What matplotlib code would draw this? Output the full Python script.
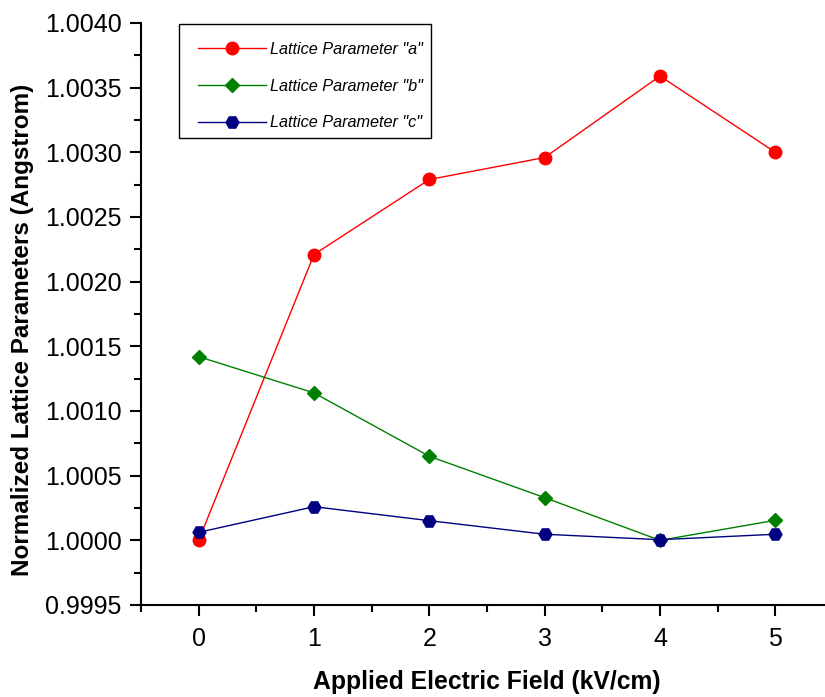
import matplotlib
matplotlib.use("Agg")
import matplotlib.pyplot as plt
from matplotlib.patches import Rectangle
from matplotlib.ticker import MultipleLocator, FormatStrFormatter

plt.rcParams['font.family'] = ['Liberation Sans', 'DejaVu Sans']

field = [0, 1, 2, 3, 4, 5]
param_a = [1.00000, 1.00221, 1.00279, 1.00296, 1.00359, 1.00300]
param_b = [1.00142, 1.00114, 1.00065, 1.00033, 1.00000, 1.000155]
param_c = [1.000062, 1.00026, 1.000152, 1.000047, 1.000005, 1.000047]
labels = ['Lattice Parameter "a"', 'Lattice Parameter "b"', 'Lattice Parameter "c"']
xticks = [0, 1, 2, 3, 4, 5]

W, H = 825, 697
fig = plt.figure(figsize=(W/100, H/100), dpi=100)
left, right, bottom, top = 141, 833, 605, 23
ax = fig.add_axes([left/W, 1-bottom/H, (right-left)/W, (bottom-top)/H])

ax.plot(field, param_a, color='#ff0000', lw=1, marker='o', ms=9, label=labels[0])
ax.plot(field, param_b, color='#008000', lw=1, marker='D', ms=7.5, label=labels[1])
ax.plot(field, param_c, color='#000080', lw=1, marker='H', ms=9.3, label=labels[2])

ax.set_xlim(-0.5, 5.5)
ax.set_ylim(0.9995, 1.0040)
ax.set_xticks(xticks)
ax.xaxis.set_minor_locator(MultipleLocator(0.5))
ax.yaxis.set_major_locator(MultipleLocator(0.0005))
ax.yaxis.set_minor_locator(MultipleLocator(0.00025))
ax.yaxis.set_major_formatter(FormatStrFormatter('%.4f'))
ax.tick_params(which='major', direction='out', length=8, width=1.5, labelsize=18)
ax.tick_params(axis='x', which='major', pad=8)
ax.tick_params(axis='y', which='major', pad=6)
ax.tick_params(which='minor', direction='out', length=5, width=1.5)
for s in ['top', 'right']:
    ax.spines[s].set_visible(False)
for s in ['left', 'bottom']:
    ax.spines[s].set_linewidth(1.5)

ax.set_xlabel('Applied Electric Field (kV/cm)', fontsize=17.8, fontweight='bold')
ax.set_ylabel('Normalized Lattice Parameters (Angstrom)', fontsize=17.5, fontweight='bold')
ax.xaxis.label.set_verticalalignment('center')
ax.xaxis.set_label_coords(0.5, (bottom-682)/(bottom-top))
ax.yaxis.label.set_verticalalignment('center')
ax.yaxis.set_label_coords((23-left)/(right-left), (bottom-330)/(bottom-top))

leg = fig.legend(loc='upper left', bbox_to_anchor=(198/W, 1-42/H), borderaxespad=0,
                 prop={'style': 'italic', 'size': 11.7}, frameon=False,
                 handlelength=4.2, labelspacing=1.33, borderpad=0,
                 handletextpad=0.25)
fig.patches.append(Rectangle((179/W, 1-138/H), (431-179)/W, (138-24)/H,
                             transform=fig.transFigure, fill=False,
                             edgecolor='black', linewidth=1.0))

fig.savefig('out.png', dpi=100)
